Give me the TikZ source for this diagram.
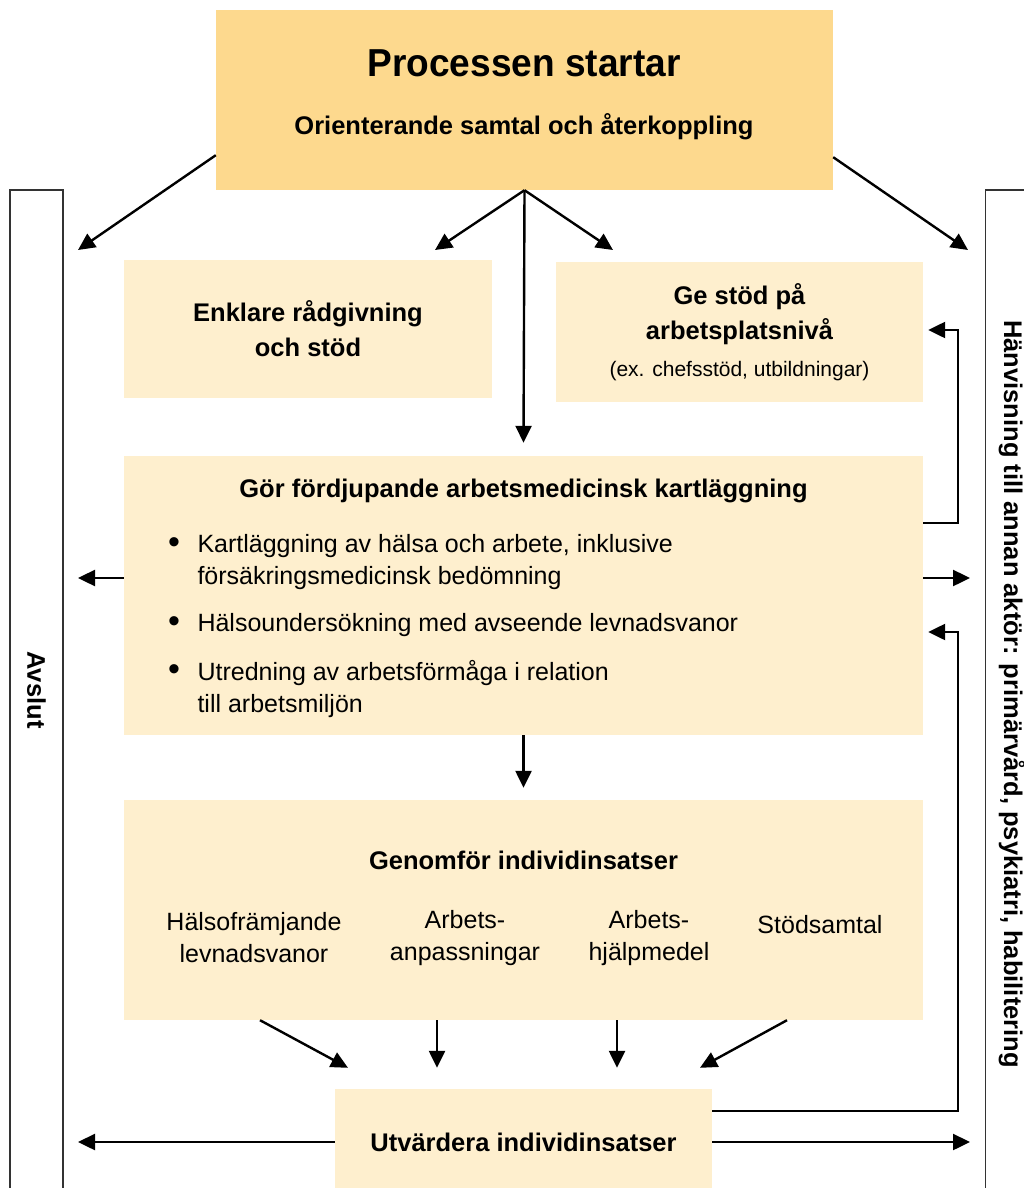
\documentclass[tikz,border=0pt]{standalone}
\usepackage{fontspec}
\setmainfont{Liberation Sans}
\newfontfamily\titelfont{Liberation Sans}[FakeStretch=0.95]
\usetikzlibrary{arrows.meta,positioning}
\definecolor{guld}{HTML}{FDD98E}
\definecolor{ljus}{HTML}{FEEFCE}
\definecolor{kant}{HTML}{333333}

\begin{document}
\begin{tikzpicture}[x=1pt,y=-1pt,
	ruta/.style={fill=ljus, inner sep=0pt},
	titel/.style={font=\fontsize{39}{46}\titelfont\bfseries},
	rubrik/.style={font=\fontsize{25.5}{35}\selectfont\bfseries, align=center},
	brod/.style={font=\fontsize{25}{32}\selectfont, align=center},
	punkt/.style={font=\fontsize{34}{34}\selectfont, inner sep=0pt},
	sidfalt/.style={draw=kant, line width=1.5pt, rotate=-90, minimum height=53pt,
		font=\fontsize{25.5}{30}\selectfont\bfseries},
	pil/.style={-{Triangle[length=17pt,width=16pt]}, line width=2.4pt}]
	\useasboundingbox (0,0) rectangle (1024,1188);

	% sidofalten
	\node[sidfalt, minimum width=1000pt] (avslut) at (36.5,690) {Avslut};
	\node[sidfalt, minimum width=1008pt] (hanvisning) at (1012,694)
		{Hänvisning till annan aktör: primärvård, psykiatri, habilitering};

	% rutor
	\node[fill=guld, minimum width=617pt, minimum height=180pt] (start) at (524.5,100) {};
	\node[titel] (starttitel) at (524,63) {Processen startar};
	\node[rubrik] (startunder) at (524,127) {Orienterande samtal och återkoppling};

	\node[ruta, rubrik, minimum width=368pt, minimum height=138pt] (enkla) at (308,329)
		{Enklare rådgivning\\och stöd};
	\node[ruta, rubrik, minimum width=367pt, minimum height=140pt] (arbplats) at (739.5,332)
		{Ge stöd på\\arbetsplatsnivå\\[2pt]\fontsize{21}{24}\selectfont\mdseries (ex. chefsstöd, utbildningar)};

	\node[ruta, minimum width=799pt, minimum height=279pt] (kartl) at (523.5,595.5) {};
	\node[rubrik] (kartltitel) at (523.5,491) {Gör fördjupande arbetsmedicinsk kartläggning};
	\node[punkt] (punkt1) at (174,546) {•};
	\node[punkt] (punkt2) at (174,625) {•};
	\node[punkt] (punkt3) at (174,673) {•};
	\node[brod, align=left, anchor=west] (kartl1) at (194,562)
		{Kartläggning av hälsa och arbete, inklusive\\försäkringsmedicinsk bedömning};
	\node[brod, align=left, anchor=west] (kartl2) at (194,625)
		{Hälsoundersökning med avseende levnadsvanor};
	\node[brod, align=left, anchor=west] (kartl3) at (194,689)
		{Utredning av arbetsförmåga i relation\\till arbetsmiljön};

	\node[ruta, minimum width=799pt, minimum height=220pt] (insats) at (523.5,910) {};
	\node[rubrik] (insatstitel) at (523.5,860) {Genomför individinsatser};
	\node[brod] (halsa) at (254,938) {Hälsofrämjande\\levnadsvanor};
	\node[brod] (anpass) at (465,938) {Arbets-\\anpassningar};
	\node[brod] (hjalp) at (649,938) {Arbets-\\hjälpmedel};
	\node[brod] (stod) at (820,925) {Stödsamtal};

	\node[ruta, rubrik, minimum width=377pt, minimum height=111pt] (utv) at (523.5,1144.5) {};
	\node[rubrik] (utvtext) at (523.5,1142) {Utvärdera individinsatser};

	% lösa ändar
	\coordinate (tillavslut1) at (78,250);
	\coordinate (tillhanv1) at (968,250);
	\coordinate (tillavslut2) at (78,578);
	\coordinate (tillhanv2) at (970,578);
	\coordinate (tillavslut3) at (78,1142);
	\coordinate (tillhanv3) at (970,1142);
	\coordinate (tillenkla) at (435,250);
	\coordinate (tillarb) at (613,250);
	\coordinate (retur1) at (958,330);
	\coordinate (retur2) at (958,632);

	\path[pil]
	([yshift=35pt]start.south west) edge (tillavslut1)
	([yshift=33pt]start.south east) edge (tillhanv1)
	(start.south) edge (tillenkla)
	(start.south) edge (tillarb)
	(start.south) edge ([yshift=13pt]kartl.north)
	([yshift=17.5pt]kartl.west) edge (tillavslut2)
	([yshift=17.5pt]kartl.east) edge (tillhanv2)
	(kartl.south) edge ([yshift=12pt]insats.north)
	([xshift=-263.5pt]insats.south) edge ([xshift=-175.5pt,yshift=21pt]utv.north)
	([xshift=-86.5pt]insats.south) edge ([xshift=-86.5pt,yshift=21pt]utv.north)
	([xshift=93.5pt]insats.south) edge ([xshift=93.5pt,yshift=21pt]utv.north)
	([xshift=263.5pt]insats.south) edge ([xshift=176.5pt,yshift=21pt]utv.north)
	([yshift=2.5pt]utv.west) edge (tillavslut3)
	([yshift=2.5pt]utv.east) edge (tillhanv3);
	\draw[pil] ([yshift=72.5pt]kartl.east) -| (retur1) -- ([xshift=5pt,yshift=2pt]arbplats.east);
	\draw[pil] ([yshift=33.5pt]utv.east) -| (retur2) -- ([xshift=5pt,yshift=-36.5pt]kartl.east);
\end{tikzpicture}
\end{document}
